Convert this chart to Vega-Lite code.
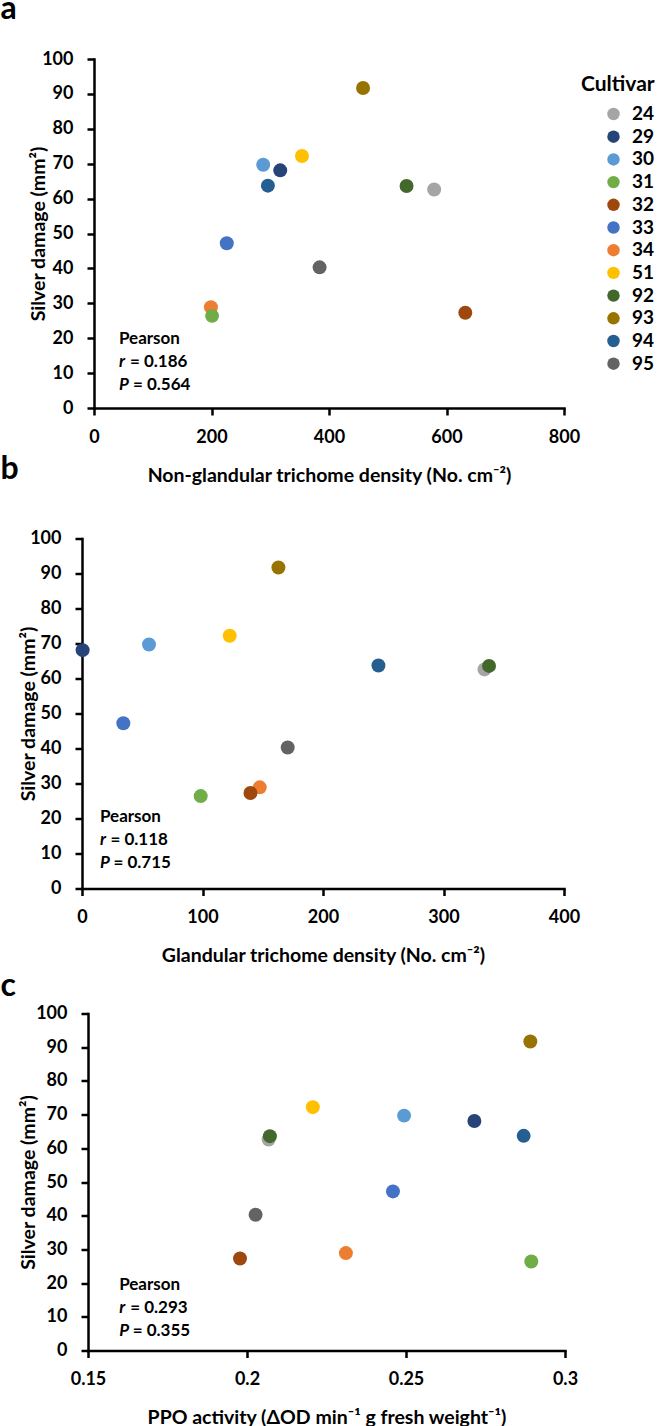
{
  "$schema": "https://vega.github.io/schema/vega-lite/v6.json",
  "padding": {"top": -7, "left": 0, "right": 0, "bottom": 0},
  "background": "white",
  "datasets": {
    "cultivars": [
      {"cultivar": "24", "damage": 62.6, "ngt": 579, "gt": 334, "ppo": 0.2068},
      {"cultivar": "29", "damage": 68.1, "ngt": 317, "gt": 0.5, "ppo": 0.2715},
      {"cultivar": "30", "damage": 69.7, "ngt": 288, "gt": 55.6, "ppo": 0.2494},
      {"cultivar": "33", "damage": 47.2, "ngt": 226, "gt": 34.3, "ppo": 0.2459},
      {"cultivar": "34", "damage": 28.9, "ngt": 199, "gt": 147.5, "ppo": 0.2311},
      {"cultivar": "31", "damage": 26.4, "ngt": 201, "gt": 98.5, "ppo": 0.2894},
      {"cultivar": "32", "damage": 27.3, "ngt": 632, "gt": 139.8, "ppo": 0.1978},
      {"cultivar": "51", "damage": 72.2, "ngt": 354, "gt": 122.6, "ppo": 0.2207},
      {"cultivar": "92", "damage": 63.6, "ngt": 532, "gt": 337.8, "ppo": 0.2072},
      {"cultivar": "93", "damage": 91.7, "ngt": 458, "gt": 163, "ppo": 0.2891},
      {"cultivar": "94", "damage": 63.7, "ngt": 296, "gt": 246, "ppo": 0.287},
      {"cultivar": "95", "damage": 40.3, "ngt": 384, "gt": 170.7, "ppo": 0.2027}
    ]
  },
  "columns": 1,
  "align": "none",
  "spacing": 4.5,
  "resolve": {"scale": {"x": "independent", "y": "independent", "color": "independent"}, "legend": {"color": "independent"}},
  "concat": [
    {
      "columns": 1,
      "align": "none",
      "spacing": -32.5,
      "resolve": {"scale": {"x": "independent", "y": "independent", "color": "independent"}, "legend": {"color": "independent"}},
      "concat": [
        {
          "title": {"text": "a", "offset": 24, "dx": -28.5},
          "width": 470,
          "height": 349,
          "data": {"name": "cultivars"},
          "layer": [
            {
              "mark": {"type": "point", "filled": true, "opacity": 1, "size": 195, "shape": "circle"},
              "encoding": {
                "x": {"field": "ngt", "type": "quantitative", "scale": {"domain": [0, 800], "nice": false, "zero": false},
                      "axis": {"values": [0, 200, 400, 600, 800], "labelOverlap": false, "title": "Non-glandular trichome density (No. cm⁻²)"}},
                "y": {"field": "damage", "type": "quantitative", "scale": {"domain": [0, 100], "nice": false},
                      "axis": {"values": [0, 10, 20, 30, 40, 50, 60, 70, 80, 90, 100], "tickCount": 11, "labelOverlap": false, "title": "Silver damage (mm²)", "titlePadding": -7.3}},
                "color": {"field": "cultivar", "type": "nominal",
                  "scale": {"domain": ["24", "29", "30", "31", "32", "33", "34", "51", "92", "93", "94", "95"],
                            "range": ["#A5A5A5", "#264478", "#5B9BD5", "#70AD47", "#9E480E", "#4472C4", "#ED7D31", "#FFC000", "#43682B", "#997300", "#255E91", "#636363"]},
                  "legend": {"title": "Cultivar", "orient": "none", "legendX": 487, "legendY": 15, "padding": 0,
                    "titleFontSize": 21, "titleFont": "Lato", "titleFontWeight": "bold", "titleColor": "black", "titlePadding": 9.5,
                    "labelFontSize": 19, "labelFont": "Lato", "labelFontWeight": "bold", "labelColor": "black", "labelOffset": 9,
                    "symbolType": "circle", "symbolSize": 155, "symbolOffset": 23, "symbolStrokeWidth": 0, "rowPadding": 2.7}}
              }
            },
            {"data": {"values": [{}]}, "mark": {"type": "text", "text": "Pearson", "align": "left", "baseline": "middle", "fontSize": 17, "fontWeight": "bold", "font": "Lato", "color": "black"},
             "encoding": {"x": {"datum": 42.5}, "y": {"datum": 19.8, "axis": {"values": [0, 10, 20, 30, 40, 50, 60, 70, 80, 90, 100], "labelOverlap": false}}}},
            {"data": {"values": [{}]}, "mark": {"type": "text", "text": "r", "align": "left", "baseline": "middle", "fontSize": 17, "fontWeight": "bold", "fontStyle": "italic", "font": "Lato", "color": "black"},
             "encoding": {"x": {"datum": 42.5}, "y": {"datum": 13.2}}},
            {"data": {"values": [{}]}, "mark": {"type": "text", "text": "= 0.186", "align": "left", "baseline": "middle", "dx": 11, "fontSize": 17, "fontWeight": "bold", "font": "Lato", "color": "black"},
             "encoding": {"x": {"datum": 42.5}, "y": {"datum": 13.2}}},
            {"data": {"values": [{}]}, "mark": {"type": "text", "text": "P", "align": "left", "baseline": "middle", "fontSize": 17, "fontWeight": "bold", "fontStyle": "italic", "font": "Lato", "color": "black"},
             "encoding": {"x": {"datum": 42.5}, "y": {"datum": 6.6}}},
            {"data": {"values": [{}]}, "mark": {"type": "text", "text": "= 0.564", "align": "left", "baseline": "middle", "dx": 14, "fontSize": 17, "fontWeight": "bold", "font": "Lato", "color": "black"},
             "encoding": {"x": {"datum": 42.5}, "y": {"datum": 6.6}}}
          ]
        },
        {
          "title": {"text": "b", "offset": 44, "dx": -18},
          "width": 470,
          "height": 350,
          "data": {"name": "cultivars"},
          "layer": [
            {
              "mark": {"type": "point", "filled": true, "opacity": 1, "size": 195, "shape": "circle"},
              "encoding": {
                "x": {"field": "gt", "type": "quantitative", "scale": {"domain": [0, 400], "range": [-12, 470], "nice": false, "zero": false},
                      "axis": {"values": [0, 100, 200, 300, 400], "labelOverlap": false, "title": "Glandular trichome density (No. cm⁻²)"}},
                "y": {"field": "damage", "type": "quantitative", "scale": {"domain": [0, 100], "nice": false},
                      "axis": {"values": [0, 10, 20, 30, 40, 50, 60, 70, 80, 90, 100], "tickCount": 11, "offset": 12, "labelOverlap": false, "title": "Silver damage (mm²)", "titlePadding": -8.8}},
                "color": {"field": "cultivar", "type": "nominal",
                  "scale": {"domain": ["24", "29", "30", "31", "32", "33", "34", "51", "92", "93", "94", "95"],
                            "range": ["#A5A5A5", "#264478", "#5B9BD5", "#70AD47", "#9E480E", "#4472C4", "#ED7D31", "#FFC000", "#43682B", "#997300", "#255E91", "#636363"]},
                  "legend": null}
              }
            },
            {"data": {"values": [{}]}, "mark": {"type": "text", "text": "Pearson", "align": "left", "baseline": "middle", "fontSize": 17, "fontWeight": "bold", "font": "Lato", "color": "black"},
             "encoding": {"x": {"datum": 14.9}, "y": {"datum": 20.5, "axis": {"values": [0, 10, 20, 30, 40, 50, 60, 70, 80, 90, 100], "offset": 12, "labelOverlap": false}}}},
            {"data": {"values": [{}]}, "mark": {"type": "text", "text": "r", "align": "left", "baseline": "middle", "fontSize": 17, "fontWeight": "bold", "fontStyle": "italic", "font": "Lato", "color": "black"},
             "encoding": {"x": {"datum": 14.9}, "y": {"datum": 14.0}}},
            {"data": {"values": [{}]}, "mark": {"type": "text", "text": "= 0.118", "align": "left", "baseline": "middle", "dx": 10.5, "fontSize": 17, "fontWeight": "bold", "font": "Lato", "color": "black"},
             "encoding": {"x": {"datum": 14.9}, "y": {"datum": 14.0}}},
            {"data": {"values": [{}]}, "mark": {"type": "text", "text": "P", "align": "left", "baseline": "middle", "fontSize": 17, "fontWeight": "bold", "fontStyle": "italic", "font": "Lato", "color": "black"},
             "encoding": {"x": {"datum": 14.9}, "y": {"datum": 7.3}}},
            {"data": {"values": [{}]}, "mark": {"type": "text", "text": "= 0.715", "align": "left", "baseline": "middle", "dx": 13.5, "fontSize": 17, "fontWeight": "bold", "font": "Lato", "color": "black"},
             "encoding": {"x": {"datum": 14.9}, "y": {"datum": 7.3}}}
          ]
        }
      ]
    },
    {
      "title": {"text": "c", "offset": 2, "dx": -18},
      "width": 471,
      "height": 337,
      "data": {"name": "cultivars"},
      "layer": [
        {
          "mark": {"type": "point", "filled": true, "opacity": 1, "size": 195, "shape": "circle"},
          "encoding": {
            "x": {"field": "ppo", "type": "quantitative", "scale": {"domain": [0.15, 0.3], "range": [-6, 471], "nice": false, "zero": false},
                  "axis": {"values": [0.15, 0.2, 0.25, 0.3], "format": ".2~f", "labelOverlap": false, "title": "PPO activity (ΔOD min⁻¹ g fresh weight⁻¹)"}},
            "y": {"field": "damage", "type": "quantitative", "scale": {"domain": [0, 100], "nice": false},
                  "axis": {"values": [0, 10, 20, 30, 40, 50, 60, 70, 80, 90, 100], "tickCount": 11, "offset": 6, "labelOverlap": false, "title": "Silver damage (mm²)", "titlePadding": -2.8}},
            "color": {"field": "cultivar", "type": "nominal",
              "scale": {"domain": ["24", "29", "30", "31", "32", "33", "34", "51", "92", "93", "94", "95"],
                        "range": ["#A5A5A5", "#264478", "#5B9BD5", "#70AD47", "#9E480E", "#4472C4", "#ED7D31", "#FFC000", "#43682B", "#997300", "#255E91", "#636363"]},
              "legend": null}
          }
        },
        {"data": {"values": [{}]}, "mark": {"type": "text", "text": "Pearson", "align": "left", "baseline": "middle", "fontSize": 17, "fontWeight": "bold", "font": "Lato", "color": "black"},
         "encoding": {"x": {"datum": 0.1598}, "y": {"datum": 19.5, "axis": {"values": [0, 10, 20, 30, 40, 50, 60, 70, 80, 90, 100], "offset": 6, "labelOverlap": false}}}},
        {"data": {"values": [{}]}, "mark": {"type": "text", "text": "r", "align": "left", "baseline": "middle", "fontSize": 17, "fontWeight": "bold", "fontStyle": "italic", "font": "Lato", "color": "black"},
         "encoding": {"x": {"datum": 0.1598}, "y": {"datum": 12.6}}},
        {"data": {"values": [{}]}, "mark": {"type": "text", "text": "= 0.293", "align": "left", "baseline": "middle", "dx": 11, "fontSize": 17, "fontWeight": "bold", "font": "Lato", "color": "black"},
         "encoding": {"x": {"datum": 0.1598}, "y": {"datum": 12.6}}},
        {"data": {"values": [{}]}, "mark": {"type": "text", "text": "P", "align": "left", "baseline": "middle", "fontSize": 17, "fontWeight": "bold", "fontStyle": "italic", "font": "Lato", "color": "black"},
         "encoding": {"x": {"datum": 0.1598}, "y": {"datum": 5.7}}},
        {"data": {"values": [{}]}, "mark": {"type": "text", "text": "= 0.355", "align": "left", "baseline": "middle", "dx": 13.5, "fontSize": 17, "fontWeight": "bold", "font": "Lato", "color": "black"},
         "encoding": {"x": {"datum": 0.1598}, "y": {"datum": 5.7}}}
      ]
    }
  ],
  "config": {
    "font": "Lato",
    "view": {"stroke": null},
    "title": {"font": "Lato", "fontSize": 32, "fontWeight": "bold", "color": "black", "anchor": "start", "frame": "bounds", "baseline": "alphabetic"},
    "axis": {
      "grid": false,
      "domainColor": "black", "domainWidth": 2.5, "domainCap": "square",
      "tickColor": "black", "tickWidth": 2.5, "tickSize": 7,
      "labelFont": "Lato", "labelFontSize": 18, "labelFontWeight": "bold", "labelColor": "black",
      "labelOverlap": false, "labelFlush": false, "labelPadding": 14,
      "titleFont": "Lato", "titleFontSize": 19.5, "titleFontWeight": "bold", "titleColor": "black"
    },
    "axisX": {"titlePadding": 20, "labelPadding": 13},
    "axisY": {"labelPadding": 14}
  }
}
